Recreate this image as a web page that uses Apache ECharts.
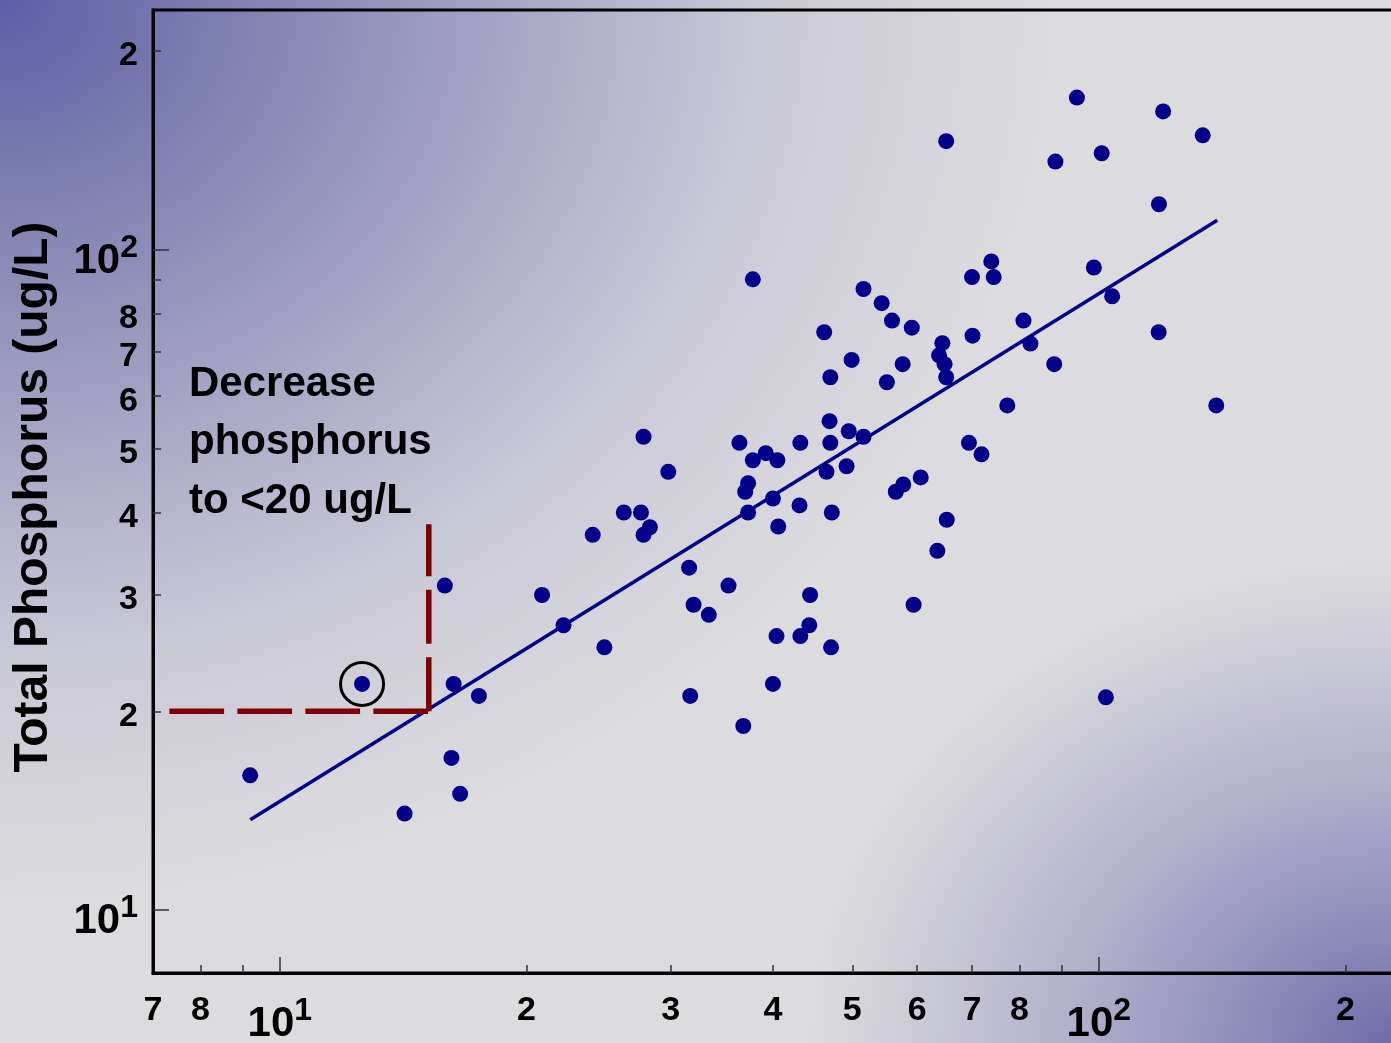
<!DOCTYPE html>
<html>
<head>
<meta charset="utf-8">
<title>Total Phosphorus</title>
<script src="https://cdn.jsdelivr.net/npm/echarts@6/dist/echarts.min.js"></script>
<style>
  html, body { margin: 0; padding: 0; }
  body {
    width: 1391px;
    height: 1043px;
    overflow: hidden;
    background-color: #dcdcde;
    background-image:
      radial-gradient(ellipse 1050px 900px at 0px 0px, #5b5ea6 0%, #7f80b1 22%, #a6a5c5 48%, #c9c8d6 72%, rgba(220,220,222,0) 100%),
      radial-gradient(ellipse 580px 480px at 1391px 1043px, #6e6daa 0%, #8e8dba 25%, #b2b0cb 55%, rgba(220,220,222,0) 100%);
  }
  #main { width: 1391px; height: 1043px; }
</style>
</head>
<body>
<div id="main"></div>
<script>
// lake observations (x value, total phosphorus ug/L)
var lakeX = [
  9.2, 12.6, 14.2, 15.9, 16.3, 16.2, 16.6, 17.5, 20.9, 22.2,
  24.1, 24.9, 26.3, 27.6, 27.8, 27.8, 28.3, 29.8, 31.6, 32.0,
  31.7, 33.4, 35.3, 36.4, 36.8, 37.8, 37.3, 37.0, 37.3, 39.2,
  40.5, 40.0, 40.6, 40.4, 40.0, 37.8, 43.2, 43.1, 44.4, 43.2,
  44.3, 47.1, 46.2, 47.0, 46.9, 47.0, 46.5, 47.2, 49.9, 49.5,
  49.2, 51.6, 54.3, 55.9, 55.1, 57.6, 59.1, 51.6, 56.5, 57.7,
  60.6, 59.4, 63.5, 65.2, 65.1, 64.4, 63.8, 64.8, 65.1, 70.0,
  70.1, 69.4, 71.9, 73.9, 74.4, 77.3, 80.9, 82.5, 88.2, 88.5,
  94.0, 98.6, 100.8, 103.8, 102.0, 118.4, 119.8, 118.3, 133.9, 139.1
];
var lakeTP = [
  16.0, 22.0, 14.0, 31.0, 22.0, 17.0, 15.0, 21.1, 30.0, 27.0,
  37.0, 25.0, 40.0, 40.0, 52.1, 37.0, 38.0, 46.1, 33.0, 29.0,
  21.1, 28.0, 31.0, 51.0, 19.0, 48.0, 44.3, 43.0, 40.0, 49.2,
  48.0, 42.0, 38.1, 26.0, 22.0, 90.2, 51.0, 41.0, 30.0, 26.0,
  27.0, 25.0, 75.0, 64.1, 55.0, 51.0, 46.1, 40.0, 68.1, 53.1,
  47.0, 87.2, 83.0, 78.1, 63.0, 67.1, 76.2, 52.1, 43.0, 44.1,
  45.2, 29.0, 35.0, 39.0, 146, 72.2, 69.2, 67.1, 64.1, 90.9,
  74.1, 51.0, 49.0, 96.0, 90.9, 58.1, 78.1, 72.1, 67.1, 136,
  170, 94.0, 140, 85.0, 21.0, 117.2, 162, 75.0, 149, 58.1
];
// fitted regression line end points
var fitX = [9.2, 139.5];
var fitTP = [13.7, 110.8];
// target: decrease phosphorus to < 20 ug/L
var targetTP = 20;
var targetX = 15.2;
var targetLeftX = 7.33;
var targetTopTP = 38.4;
// highlighted lake
var circledX = [12.6];
var circledTP = [22.0];

// axis ranges and ticks
var xMin = 7, xMax = 240.5;
var yMin = 8.03, yMax = 230.7;
var xLabelValues = [7, 8, 10, 20, 30, 40, 50, 60, 70, 80, 100, 200];
var xMajorTicks = [10, 100];
var xMinorTicks = [8, 9, 20, 30, 40, 50, 60, 70, 80, 90, 200];
var yLabelValues = [10, 20, 30, 40, 50, 60, 70, 80, 100, 200];
var yMajorTicks = [10, 100];
var yMinorTicks = [20, 30, 40, 50, 60, 70, 80, 90, 200];

function zip(a, b) {
  var out = [];
  for (var i = 0; i < a.length; i++) {
    out.push([a[i], b[i]]);
  }
  return out;
}

// 10 and 100 get a power label, the rest only the leading digit
function tickLabel(v) {
  var e = Math.log10(v);
  if (Math.abs(e - Math.round(e)) < 1e-6) {
    return '{p|10}{s|' + Math.round(e) + '}';
  }
  var p = Math.pow(10, Math.floor(e + 1e-9));
  return '{n|' + Math.round(v / p) + '}';
}

var labelFont = 'Liberation Sans';
var tickStyle = { color: '#333', width: 1.5 };

function logAxis(pos, min, max, opts) {
  return {
    type: 'log',
    logBase: 10,
    position: pos,
    min: min,
    max: max,
    axisLine: { show: opts.line, onZero: false, lineStyle: { color: '#000', width: 3 } },
    axisTick: { show: true, inside: true, length: opts.tickLen, lineStyle: tickStyle, customValues: opts.ticks },
    axisLabel: opts.label || { show: false },
    splitLine: { show: false },
    minorTick: { show: false },
    minorSplitLine: { show: false }
  };
}

function richToken(size, padTop) {
  return {
    fontSize: size,
    fontWeight: 'bold',
    fontFamily: labelFont,
    color: '#000',
    verticalAlign: 'top',
    padding: [padTop, 0, 0, 0]
  };
}

var xLabel = {
  show: true,
  margin: 20.5,
  showMinLabel: true,
  showMaxLabel: true,
  customValues: xLabelValues,
  formatter: tickLabel,
  color: '#000',
  fontFamily: labelFont,
  fontWeight: 'bold',
  rich: {
    n: richToken(34, 0),
    p: richToken(42, 9.5),
    s: richToken(32, 1.5)
  }
};

var yLabel = {
  show: true,
  margin: 15,
  showMinLabel: true,
  showMaxLabel: true,
  customValues: yLabelValues,
  formatter: tickLabel,
  color: '#000',
  fontFamily: labelFont,
  fontWeight: 'bold',
  rich: {
    n: richToken(34, 10),
    p: richToken(42, 23),
    s: richToken(32, 14.5)
  }
};

var chart = echarts.init(document.getElementById('main'), null, { renderer: 'canvas' });

var option = {
  backgroundColor: 'transparent',
  animation: false,
  grid: {
    left: 153,
    top: 10,
    right: -20,
    bottom: 70,
    show: true,
    borderColor: '#000',
    borderWidth: 3,
    backgroundColor: 'transparent',
    outerBoundsMode: 'none'
  },
  xAxis: [
    logAxis('bottom', xMin, xMax, { line: true, tickLen: 16, ticks: xMajorTicks, label: xLabel }),
    logAxis('bottom', xMin, xMax, { line: false, tickLen: 8, ticks: xMinorTicks })
  ],
  yAxis: [
    logAxis('left', yMin, yMax, { line: true, tickLen: 16, ticks: yMajorTicks, label: yLabel }),
    logAxis('left', yMin, yMax, { line: false, tickLen: 8, ticks: yMinorTicks })
  ],
  graphic: [
    {
      type: 'text',
      x: 34,
      y: 497,
      rotation: Math.PI / 2,
      style: {
        text: 'Total Phosphorus (ug/L)',
        font: 'bold 48px "Liberation Sans"',
        fill: '#000',
        align: 'center',
        verticalAlign: 'middle',
        textAlign: 'center',
        textVerticalAlign: 'middle'
      }
    },
    {
      type: 'text',
      left: 189,
      top: 355,
      style: {
        text: 'Decrease\nphosphorus\nto <20 ug/L',
        font: 'bold 42px "Liberation Sans"',
        lineHeight: 58.5,
        fill: '#000'
      }
    }
  ],
  series: [
    {
      name: 'fit',
      type: 'line',
      data: zip(fitX, fitTP),
      symbol: 'none',
      showSymbol: false,
      lineStyle: { color: '#00008b', width: 3.5 },
      z: 2
    },
    {
      name: 'target',
      type: 'line',
      data: [[targetLeftX, targetTP], [targetX, targetTP]],
      symbol: 'none',
      showSymbol: false,
      lineStyle: { color: '#800000', width: 5.5, type: [54.7, 13.3], cap: 'butt' },
      z: 3
    },
    {
      name: 'target up',
      type: 'line',
      data: [[targetX, targetTP], [targetX, targetTopTP]],
      symbol: 'none',
      showSymbol: false,
      lineStyle: { color: '#800000', width: 5.5, type: [54, 13.5], cap: 'butt' },
      z: 3
    },
    {
      name: 'lakes',
      type: 'scatter',
      data: zip(lakeX, lakeTP),
      symbol: 'circle',
      symbolSize: 16,
      itemStyle: { color: '#00008b', opacity: 1 },
      z: 4
    },
    {
      name: 'circled',
      type: 'scatter',
      data: zip(circledX, circledTP),
      symbol: 'circle',
      symbolSize: 43,
      itemStyle: { color: 'rgba(0,0,0,0)', borderColor: '#000', borderWidth: 3, opacity: 1 },
      z: 5
    }
  ]
};

chart.setOption(option);
</script>
</body>
</html>
